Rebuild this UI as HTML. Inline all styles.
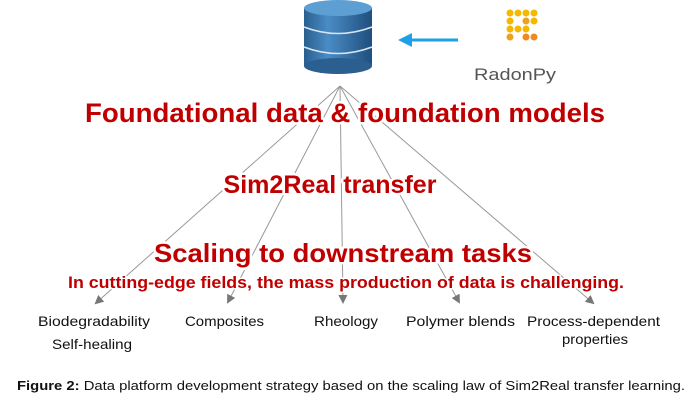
<!DOCTYPE html>
<html><head><style>body{margin:0;background:#fff}svg{display:block}</style></head><body>
<svg width="700" height="417" viewBox="0 0 700 417" xmlns="http://www.w3.org/2000/svg" font-family="Liberation Sans, Arial, sans-serif">
<defs>
<linearGradient id="cyl" x1="0" x2="1">
<stop offset="0" stop-color="#2a5f8f"/><stop offset="0.35" stop-color="#4a8cc4"/><stop offset="1" stop-color="#1f4f7e"/>
</linearGradient>
<marker id="ah" markerWidth="9" markerHeight="9" refX="7" refY="4.5" orient="auto" markerUnits="userSpaceOnUse"><path d="M0,0 L9,4.5 L0,9 Z" fill="#777"/></marker>
</defs>
<g stroke="#999" stroke-width="1" fill="none" marker-end="url(#ah)">
<line x1="340" y1="86" x2="96" y2="303"/>
<line x1="340" y1="86" x2="228" y2="302"/>
<line x1="340" y1="86" x2="343" y2="302"/>
<line x1="340" y1="86" x2="459" y2="302"/>
<line x1="340" y1="86" x2="593" y2="303"/>
</g>
<g>
<rect x="304" y="8" width="68" height="58" fill="url(#cyl)"/>
<ellipse cx="338" cy="66" rx="34" ry="8" fill="#2a5f8f"/>
<path d="M304,27 Q338,40 372,27" stroke="#d8e6f2" stroke-width="1.5" fill="none"/>
<path d="M304,47 Q338,60 372,47" stroke="#d8e6f2" stroke-width="1.5" fill="none"/>
<ellipse cx="338" cy="8" rx="34" ry="8" fill="#5d9ed3"/>
</g>
<line x1="458" y1="40" x2="408" y2="40" stroke="#1ea0e6" stroke-width="3"/>
<path d="M398,40 L412,33 L412,47 Z" fill="#1ea0e6"/>
<g fill="#f5b800">
<circle cx="510" cy="13" r="3.5"/><circle cx="518" cy="13" r="3.5"/><circle cx="526" cy="13" r="3.5"/><circle cx="534" cy="13" r="3.5"/>
<circle cx="510" cy="21" r="3.5"/><circle cx="534" cy="21" r="3.5"/>
<circle cx="510" cy="29" r="3.5"/><circle cx="518" cy="29" r="3.5"/><circle cx="526" cy="29" r="3.5"/>
<circle cx="510" cy="37" r="3.5" fill="#f0a020"/><circle cx="526" cy="37" r="3.5" fill="#ef8a1e"/>
<circle cx="534" cy="37" r="3.5" fill="#ef8a1e"/><circle cx="526" cy="21" r="3.5" fill="#f0a020"/>
</g>
<text x="474" y="80" font-size="17" fill="#555" textLength="82" lengthAdjust="spacingAndGlyphs">RadonPy</text>
<g fill="#c00000" font-weight="bold" text-anchor="middle" stroke="#fff" stroke-width="5" stroke-linejoin="round" paint-order="stroke">
<text x="345" y="122" font-size="27" textLength="520" lengthAdjust="spacingAndGlyphs">Foundational data &amp; foundation models</text>
<text x="330" y="193" font-size="25" textLength="213" lengthAdjust="spacingAndGlyphs">Sim2Real transfer</text>
<text x="343" y="262" font-size="26" textLength="378" lengthAdjust="spacingAndGlyphs">Scaling to downstream tasks</text>
<text x="346" y="288" font-size="17" stroke-width="3" textLength="556" lengthAdjust="spacingAndGlyphs">In cutting-edge fields, the mass production of data is challenging.</text>
</g>
<g font-size="14" fill="#111">
<text x="38" y="326" textLength="112" lengthAdjust="spacingAndGlyphs">Biodegradability</text>
<text x="52" y="349" textLength="80" lengthAdjust="spacingAndGlyphs">Self-healing</text>
<text x="185" y="326" textLength="79" lengthAdjust="spacingAndGlyphs">Composites</text>
<text x="314" y="326" textLength="64" lengthAdjust="spacingAndGlyphs">Rheology</text>
<text x="406" y="326" textLength="109" lengthAdjust="spacingAndGlyphs">Polymer  blends</text>
<text x="527" y="326" textLength="133" lengthAdjust="spacingAndGlyphs">Process-dependent</text>
<text x="562" y="344" textLength="66" lengthAdjust="spacingAndGlyphs">properties</text>
</g>
<text x="17" y="390" font-size="13" fill="#111" textLength="668" lengthAdjust="spacingAndGlyphs"><tspan font-weight="bold">Figure 2:</tspan> Data platform development strategy based on the scaling law of Sim2Real transfer learning.</text>
</svg>
</body></html>
